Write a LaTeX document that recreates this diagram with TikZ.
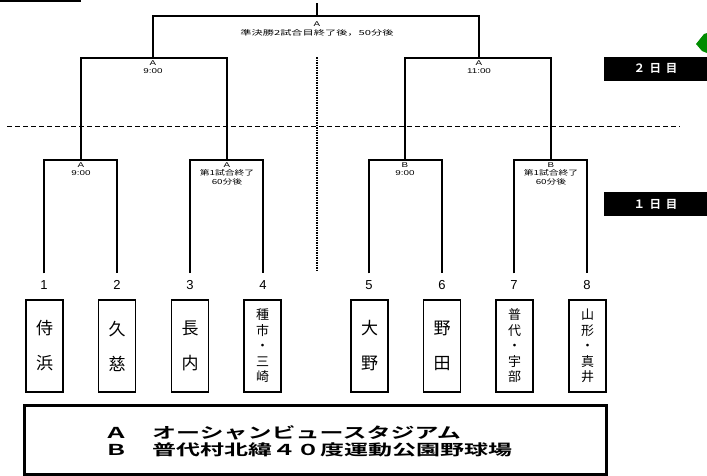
\documentclass[tikz,border=0pt]{standalone}
\usepackage{fontspec}
\setmainfont{Liberation Sans}
\newfontfamily\jp{Noto Sans CJK JP}
\newfontfamily\jpsmall[FakeStretch=1.4]{Noto Sans CJK JP}
\newfontfamily\jptop[FakeStretch=1.6]{Noto Sans CJK JP}
\newfontfamily\latsmall[FakeStretch=1.4]{Liberation Sans}
\newfontfamily\jpvenue[FakeStretch=1.6]{Noto Sans CJK JP Bold}
\newfontfamily\jpday{Noto Sans CJK JP Bold}
\begin{document}
\begin{tikzpicture}[x=1pt,y=-1pt,
  br/.style={line width=2pt, line join=miter},
  teambox/.style={draw, line width=1.3pt, minimum width=37pt, minimum height=92pt, inner sep=0pt, align=center},
  twoname/.style={font=\jp\fontsize{17}{35}\selectfont},
  fivename/.style={font=\jp\fontsize{13}{15.5}\selectfont},
  num/.style={font=\fontsize{13}{13}\selectfont, inner sep=0pt},
  lblA/.style={font=\latsmall\fontsize{7}{7}\selectfont, inner sep=0pt},
  lbljp/.style={font=\jpsmall\fontsize{7}{9}\selectfont, inner sep=0pt, align=center},
  daybox/.style={fill=black, text=white, minimum width=103pt, minimum height=24pt, inner sep=0pt, font=\jpday\fontsize{11.5}{11.5}\selectfont},
  venue/.style={font=\jpvenue\fontsize{15}{17}\selectfont, inner sep=0pt, anchor=west}
]
\useasboundingbox (0,0) rectangle (707,475);

% top-left stub line
\coordinate (tl1) at (0,1);
\coordinate (tl2) at (81,1);
\draw[line width=1.6pt] (tl1) -- (tl2);

% green fragment at top right
\fill[green!55!black] (696,44) -- (704,34) -- (707,33) -- (707,53) -- (702,51) -- cycle;

% numbers
\foreach \i/\x in {1/44,2/117,3/190,4/263,5/369,6/442,7/514,8/587}{
  \node[num] (n\i) at (\x,285) {\i};
}

% team boxes
\node[teambox, twoname] (t1) at (44.5,346) {侍\\浜};
\node[teambox, twoname] (t2) at (117,346) {久\\慈};
\node[teambox, twoname] (t3) at (190,346) {長\\内};
\node[teambox, fivename] (t4) at (262.5,346) {種\\市\\・\\三\\崎};
\node[teambox, twoname] (t5) at (369.5,346) {大\\野};
\node[teambox, twoname] (t6) at (442,346) {野\\田};
\node[teambox, fivename] (t7) at (514.5,346) {普\\代\\・\\宇\\部};
\node[teambox, fivename] (t8) at (587.5,346) {山\\形\\・\\真\\井};

% bracket coordinates
\coordinate (q1) at (81,160);
\coordinate (q2) at (227,160);
\coordinate (q3) at (405,160);
\coordinate (q4) at (551,160);
\coordinate (s1) at (153,58);
\coordinate (s2) at (479,58);
\coordinate (f) at (317,16);
\coordinate (ftop) at (317,3);

% first round
\draw[br, shorten <=7pt, shorten >=7pt] (n1.north) |- (q1) -| (n2.north);
\draw[br, shorten <=7pt, shorten >=7pt] (n3.north) |- (q2) -| (n4.north);
\draw[br, shorten <=7pt, shorten >=7pt] (n5.north) |- (q3) -| (n6.north);
\draw[br, shorten <=7pt, shorten >=7pt] (n7.north) |- (q4) -| (n8.north);
% semifinals
\draw[br] (q1) |- (s1) -| (q2);
\draw[br] (q3) |- (s2) -| (q4);
% final
\draw[br] (s1) |- (f) -| (s2);
\draw[br] (f) -- (ftop);

% dashed day separator
\coordinate (dl) at (7,126);
\coordinate (dr) at (680,126);
\draw[line width=1pt, dash pattern=on 5pt off 3pt] (dl) -- (dr);
% dotted center line
\coordinate (vt) at (317,57);
\coordinate (vb) at (317,270);
\draw[line width=1.6pt, dash pattern=on 1.5pt off 1pt] (vt) -- (vb);

% labels
\node[lblA] (lf) at (317,24) {A};
\node[lbljp, font=\jptop\fontsize{7}{9}\selectfont] (lft) at (317,32.5) {準決勝2試合目終了後，50分後};
\node[lblA] (ls1) at (153,63) {A};
\node[lblA] (ls1t) at (153,71.5) {9:00};
\node[lblA] (ls2) at (479,63) {A};
\node[lblA] (ls2t) at (479,71.5) {11:00};
\node[lblA] (lq1) at (81,165) {A};
\node[lblA] (lq1t) at (81,173.5) {9:00};
\node[lblA] (lq2) at (227,165) {A};
\node[lbljp, anchor=north] (lq2t) at (227,169.5) {第1試合終了\\60分後};
\node[lblA] (lq3) at (405,165) {B};
\node[lblA] (lq3t) at (405,173.5) {9:00};
\node[lblA] (lq4) at (551,165) {B};
\node[lbljp, anchor=north] (lq4t) at (551,169.5) {第1試合終了\\60分後};

% day boxes
\node[daybox] (d2) at (655.5,68.5) {２\hspace{0.4em}日\hspace{0.4em}目};
\node[daybox] (d1) at (655.5,204) {１\hspace{0.4em}日\hspace{0.4em}目};

% venue box
\node[draw, line width=3pt, minimum width=582pt, minimum height=69pt, inner sep=0pt] (vbox) at (315,439.5) {};
\node[venue] (va) at (104,433) {Ａ　オーシャンビュースタジアム};
\node[venue] (vb2) at (104,450) {Ｂ　普代村北緯４０度運動公園野球場};
\end{tikzpicture}
\end{document}
